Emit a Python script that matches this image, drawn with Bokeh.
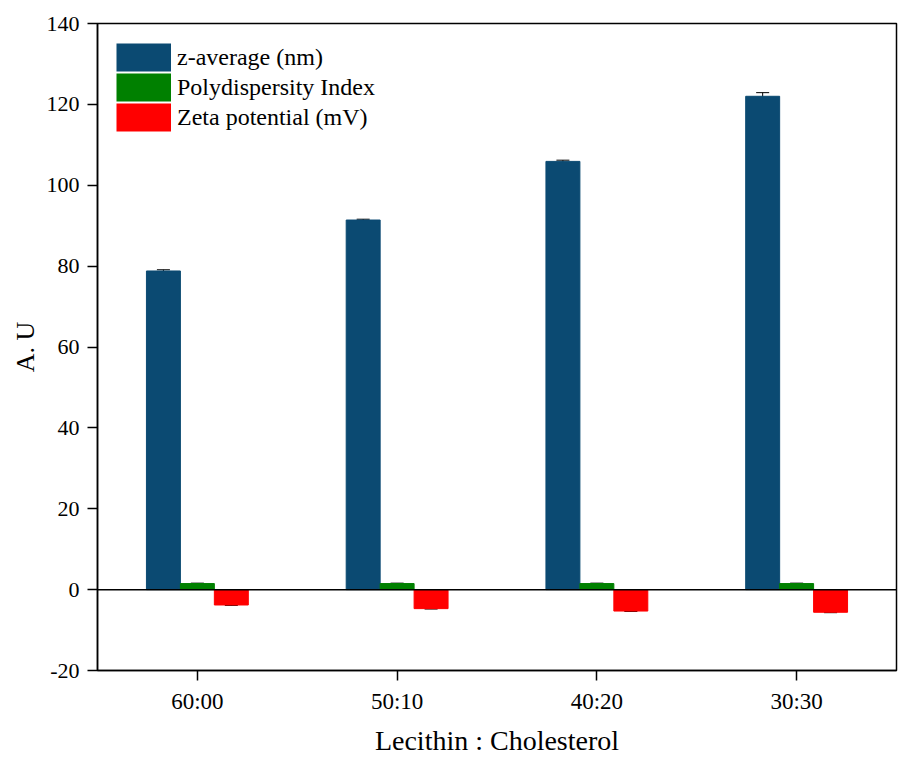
from bokeh.plotting import figure
from bokeh.models import ColumnDataSource, FixedTicker, Span, Whisker, TeeHead, Legend, LegendItem
from bokeh.embed import file_html
from bokeh.resources import INLINE

categories = ["60:00", "50:10", "40:20", "30:30"]
z_average = [78.8, 91.4, 105.9, 122.0]
z_average_err = [0.3, 0.2, 0.3, 0.9]
pdi = [1.5, 1.5, 1.5, 1.5]
pdi_err = [0.1, 0.1, 0.1, 0.1]
zeta = [-3.8, -4.7, -5.3, -5.6]
zeta_err = [0.1, 0.1, 0.1, 0.1]
y_ticks = [-20, 0, 20, 40, 60, 80, 100, 120, 140]
series_labels = ["z-average (nm)", "Polydispersity Index", "Zeta potential (mV)"]

FONT = "'Liberation Serif', serif"
C_Z = "#0B4A72"
C_P = "#008000"
C_Q = "#FF0000"
W = 0.17

centers = [i + 0.5 for i in range(len(categories))]

p = figure(width=899, height=758, x_range=(0, len(categories)), y_range=(-20, 140),
           output_backend="svg", toolbar_location=None,
           min_border_left=97, min_border_right=3, min_border_top=23, min_border_bottom=87)
p.grid.visible = False
p.outline_line_color = "black"
p.outline_line_width = 1.5
p.background_fill_color = "white"
p.border_fill_color = "white"

def src(off, vals, errs):
    xs = [c + off for c in centers]
    return ColumnDataSource(dict(x=xs, top=vals,
                                 up=[v + e for v, e in zip(vals, errs)],
                                 lo=[v - e for v, e in zip(vals, errs)]))

s_z = src(-W, z_average, z_average_err)
s_p = src(0.0, pdi, pdi_err)
s_q = src(W, zeta, zeta_err)

colors = [C_Z, C_P, C_Q]
for s, c in zip((s_z, s_p, s_q), colors):
    p.vbar(x="x", top="top", bottom=0, width=W, source=s, fill_color=c, line_color=c)

for s in (s_z, s_p, s_q):
    wk = Whisker(base="x", upper="up", lower="lo", source=s, line_color="black", line_width=1,
                 upper_head=TeeHead(size=13, line_color="black", line_width=1),
                 lower_head=TeeHead(size=13, line_color="black", line_width=1))
    p.add_layout(wk)

p.add_layout(Span(location=0, dimension="width", line_color="black", line_width=1.5))

# legend proxies: single-point thick lines (draw nothing in the plot) give solid swatches
proxies = [p.line(x=[centers[0]], y=[0], line_color=c, line_width=28, line_cap="butt") for c in colors]

p.xaxis.ticker = FixedTicker(ticks=centers)
p.xaxis.major_label_overrides = {c: lab for c, lab in zip(centers, categories)}
p.xaxis.minor_tick_line_color = None
p.yaxis.ticker = FixedTicker(ticks=y_ticks)
p.yaxis.major_label_overrides = {t: str(t) for t in y_ticks}
p.yaxis.minor_tick_line_color = None

for ax in (p.xaxis[0], p.yaxis[0]):
    ax.axis_line_color = "black"
    ax.axis_line_width = 1.5
    ax.major_tick_line_color = "black"
    ax.major_tick_line_width = 1.5
    ax.major_tick_in = 0
    ax.major_tick_out = 10
    ax.major_label_text_font = FONT
    ax.major_label_text_color = "black"
    ax.axis_label_text_font = FONT
    ax.axis_label_text_font_style = "normal"
    ax.axis_label_text_color = "black"

p.xaxis.major_label_text_font_size = "23px"
p.yaxis.major_label_text_font_size = "22px"
p.xaxis.axis_label_text_font_size = "28px"
p.yaxis.axis_label_text_font_size = "26px"
p.xaxis.axis_label = "Lecithin : Cholesterol"
p.yaxis.axis_label = "A. U"
p.xaxis.major_label_standoff = 8
p.xaxis.axis_label_standoff = 8
p.yaxis.major_label_standoff = 8
p.yaxis.axis_label_standoff = 4

legend = Legend(items=[LegendItem(label=lab, renderers=[r]) for lab, r in zip(series_labels, proxies)],
                location="top_left", margin=19, padding=10, spacing=0,
                glyph_width=55, glyph_height=30, label_standoff=6,
                label_text_font=FONT, label_text_font_size="24px", label_text_color="black",
                border_line_color=None, background_fill_alpha=0)
p.add_layout(legend)

open("out.html", "w").write(file_html(p, INLINE))
